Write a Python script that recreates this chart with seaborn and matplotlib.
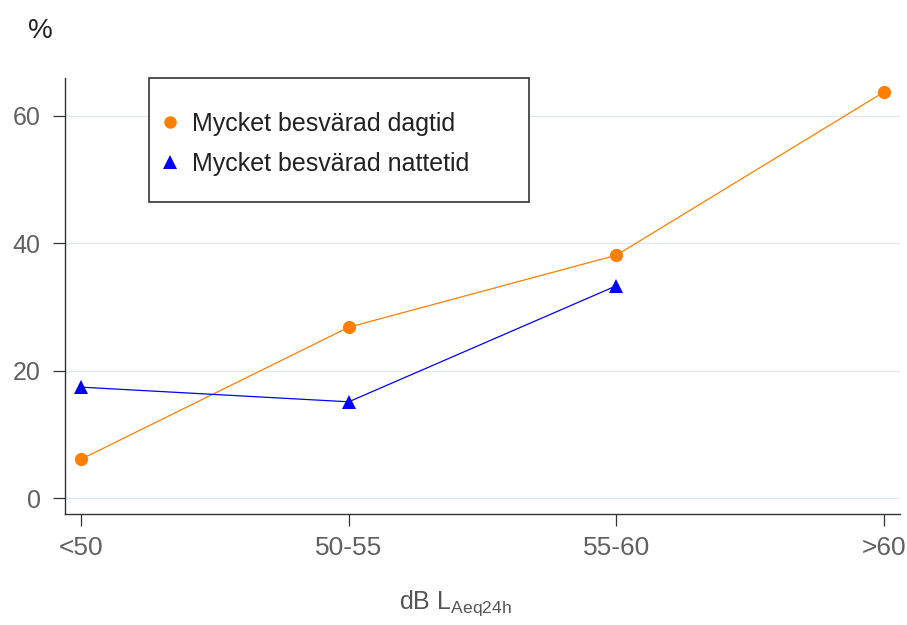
import matplotlib
matplotlib.use("Agg")
import matplotlib.pyplot as plt
from matplotlib.lines import Line2D
from matplotlib.patches import Rectangle
import seaborn as sns

# data
categories = ["<50", "50-55", "55-60", ">60"]
dagtid = [6.1, 26.8, 38.1, 63.7]
nattetid_cats = ["<50", "50-55", "55-60"]
nattetid = [17.4, 15.1, 33.3]

sns.set_theme(style="white")
plt.rcParams["font.family"] = ["Liberation Sans", "DejaVu Sans"]

fig = plt.figure(figsize=(9.07, 6.25), dpi=100)
ax = fig.add_axes([0.0717, 0.1776, 0.9206, 0.6976])

orange = "#ff7f00"
blue = "#0000ff"

sns.lineplot(x=categories, y=dagtid, ax=ax, color=orange, linewidth=0.9,
             marker="o", markersize=9.5, markeredgewidth=0, sort=False)
sns.lineplot(x=nattetid_cats, y=nattetid, ax=ax, color=blue, linewidth=0.9,
             marker="^", markersize=10, markeredgewidth=0, sort=False)

ax.set_xlim(-0.06, 3.06)
ax.set_ylim(-2.5, 65.9)
ax.set_yticks([0, 20, 40, 60])
ax.yaxis.grid(True, color="#e3e8f0", linewidth=0.9)
ax.set_axisbelow(True)

for side in ["top", "right"]:
    ax.spines[side].set_visible(False)
for side in ["left", "bottom"]:
    ax.spines[side].set_color("#333333")
    ax.spines[side].set_linewidth(1.0)

ax.tick_params(axis="both", which="both", direction="out", length=8.5,
               width=0.9, color="#333333", labelcolor="#606060",
               bottom=True, left=True)
ax.tick_params(axis="x", pad=7, labelsize=19)
ax.tick_params(axis="y", pad=9, labelsize=18)

ax.set_xlabel(r"dB L$_{\mathregular{Aeq24h}}$", fontsize=18, color="#555555")
ax.xaxis.set_label_coords(0.468, -0.17)
ax.set_ylabel("")
fig.text(0.044, 0.95, "%", fontsize=20, color="#222222", ha="center", va="center")

# legend box (white, dark border) drawn behind a frameless legend
box = Rectangle((0.1006, 0.7156), 0.455, 0.2844, transform=ax.transAxes,
                facecolor="white", edgecolor="#333333", linewidth=1.2,
                zorder=4, clip_on=False)
ax.add_patch(box)

handles = [
    Line2D([], [], color=orange, marker="o", linestyle="none", markersize=9,
           markeredgewidth=0, label="Mycket besvärad dagtid"),
    Line2D([], [], color=blue, marker="^", linestyle="none", markersize=9.5,
           markeredgewidth=0, label="Mycket besvärad nattetid"),
]
leg = ax.legend(handles=handles, loc="upper left",
                bbox_to_anchor=(0.1138, 0.923),
                fontsize=18, frameon=False, handlelength=0.8,
                handletextpad=0.48, borderpad=0, labelspacing=0.64,
                borderaxespad=0)
leg.set_zorder(5)
for t in leg.get_texts():
    t.set_color("#222222")

fig.savefig("out.png", dpi=100)
